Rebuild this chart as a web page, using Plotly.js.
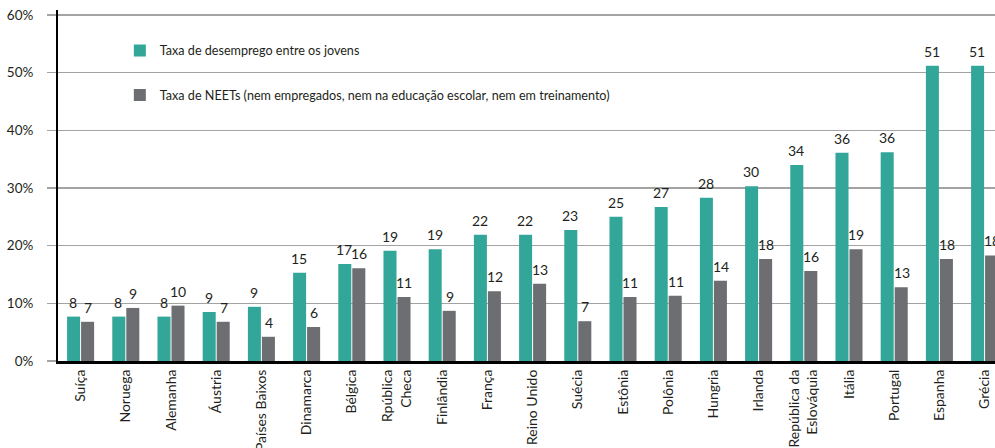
<!DOCTYPE html>
<html>
<head>
<meta charset="utf-8">
<script src="https://cdn.plot.ly/plotly-3.0.1.min.js"></script>
<style>
  html, body { margin: 0; padding: 0; background: #fff; overflow: hidden; }
  #chart { width: 995px; height: 448px; }
</style>
</head>
<body>
<div id="chart"></div>
<script>
const countries = ["Suíça", "Noruega", "Alemanha", "Áustria", "Países Baixos", "Dinamarca", "Bélgica",
  "Rpública Checa", "Finlândia", "França", "Reino Unido", "Suécia", "Estônia", "Polônia", "Hungria",
  "Irlanda", "República da Eslováquia", "Itália", "Portugal", "Espanha", "Grécia"];
const tickLabels = ["Suíça", "Noruega", "Alemanha", "Áustria", "Países Baixos", "Dinamarca", "Bélgica",
  "Rpública<br>Checa", "Finlândia", "França", "Reino Unido", "Suécia", "Estônia", "Polônia", "Hungria",
  "Irlanda", "República da<br>Eslováquia", "Itália", "Portugal", "Espanha", "Grécia"];
const youthUnemployment = [7.7, 7.7, 7.7, 8.5, 9.4, 15.3, 16.8, 19.1, 19.4, 21.9, 21.9, 22.7, 25.0, 26.7, 28.3, 30.3, 34.0, 36.1, 36.2, 51.2, 51.2];
const neetRate = [6.8, 9.2, 9.6, 6.8, 4.2, 5.9, 16.1, 11.1, 8.7, 12.1, 13.4, 6.9, 11.1, 11.3, 13.9, 17.7, 15.6, 19.4, 12.8, 17.7, 18.3];
const seriesNames = ["Taxa de desemprego entre os jovens",
  "Taxa de NEETs (nem empregados, nem na educação escolar, nem em treinamento)"];
const yTicks = [0, 10, 20, 30, 40, 50, 60];

const FONT = "Lato, 'Open Sans', sans-serif";
const TEXT = "#231f20";
const TEAL = "#33a69a";
const GREY = "#6d6e71";

const traces = [
  { type: "bar", name: seriesNames[0], x: countries, y: youthUnemployment,
    marker: { color: TEAL }, legend: "legend", hoverinfo: "skip" },
  { type: "bar", name: seriesNames[1], x: countries, y: neetRate,
    marker: { color: GREY }, legend: "legend2", hoverinfo: "skip" }
];

const annotations = [];
[youthUnemployment, neetRate].forEach((vals, s) => {
  vals.forEach((v, i) => {
    annotations.push({
      x: countries[i], y: v, xref: "x", yref: "y",
      text: String(Math.round(v)), showarrow: false,
      xanchor: "center", yanchor: "bottom",
      xshift: s === 0 ? -7.4 : 7.4, yshift: 4,
      font: { family: FONT, size: 14, color: TEXT }
    });
  });
});

const layout = {
  width: 995, height: 448,
  margin: { l: 58, r: 0, t: 10, b: 87, pad: 0 },
  paper_bgcolor: "#fff", plot_bgcolor: "#fff",
  font: { family: FONT, size: 13, color: TEXT },
  barmode: "group", bargap: 0.38, bargroupgap: 0.07,
  showlegend: true,
  legend: { x: 0.066, xanchor: "left", y: 0.884, yanchor: "middle",
    bgcolor: "rgba(0,0,0,0)", borderwidth: 0, font: { family: FONT, size: 12.6, color: TEXT } },
  legend2: { x: 0.066, xanchor: "left", y: 0.757, yanchor: "middle",
    bgcolor: "rgba(0,0,0,0)", borderwidth: 0, font: { family: FONT, size: 12.6, color: TEXT } },
  xaxis: {
    type: "category", range: [-0.5, 20.23],
    tickmode: "array", tickvals: countries, ticktext: tickLabels,
    tickangle: -90, ticks: "", showgrid: false, zeroline: false,
    showline: true, linecolor: "#000", linewidth: 3,
    tickfont: { family: FONT, size: 14, color: TEXT }
  },
  yaxis: {
    range: [0, 60.87], tickmode: "array", tickvals: yTicks,
    ticktext: yTicks.map(t => t + "%"),
    showgrid: true, gridcolor: "#a3a3a3", gridwidth: 1.5,
    ticks: "outside", ticklen: 9, tickcolor: "#a3a3a3", tickwidth: 1.5,
    ticklabelstandoff: 11,
    showline: true, linecolor: "#000", linewidth: 2, zeroline: false,
    tickfont: { family: FONT, size: 13.5, color: TEXT }
  },
  annotations: annotations
};

Plotly.newPlot("chart", traces, layout, { staticPlot: true, displayModeBar: false });
</script>
</body>
</html>
